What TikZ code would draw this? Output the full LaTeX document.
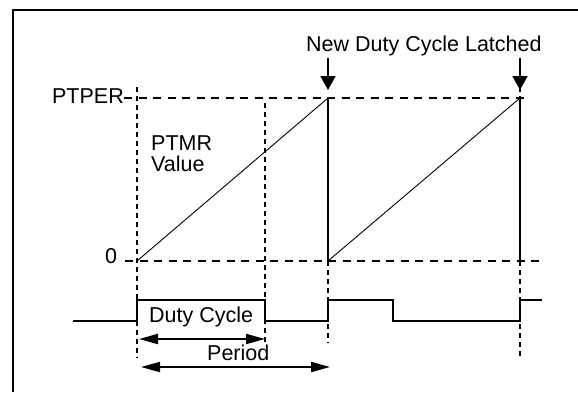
\documentclass[tikz,border=0pt]{standalone}
\usepackage{fontspec}
\setmainfont{Liberation Sans}
\usetikzlibrary{arrows.meta}
\begin{document}
\begin{tikzpicture}[x=1pt,y=-1pt,
  lbl/.style={inner sep=0pt, font=\fontsize{21.5}{25}\selectfont},
  hdash/.style={line width=1.8pt, dash pattern=on 8pt off 6.5pt},
  vdash/.style={line width=1.8pt, dash pattern=on 5pt off 4pt},
  wave/.style={line width=2pt},
  ramp/.style={line width=0.9pt},
  reset/.style={line width=1.6pt},
  dimarrow/.style={line width=2pt, {Triangle[length=19pt,width=10pt]}-{Triangle[length=19pt,width=10pt]}},
  latch/.style={line width=2pt, -{Triangle[length=14pt,width=15pt]}},
  frame/.style={line width=2.5pt}
]
\useasboundingbox (0,0) rectangle (578,392);
% frame
\coordinate (fbl) at (13,392);
\coordinate (ftl) at (13,10);
\coordinate (ftr) at (578,10);
\draw[frame] (fbl) -- (ftl) -- (ftr);

% reference levels
\coordinate (topL) at (124,98);
\coordinate (topR) at (527,98);
\coordinate (zeroL) at (125,261);
\coordinate (zeroR) at (542,261);
\draw[hdash] (topL) -- (topR);
\draw[hdash] (zeroL) -- (zeroR);

% vertical dashed markers
\coordinate (v1t) at (137,87);   \coordinate (v1b) at (137,358);
\coordinate (v2t) at (265,103);  \coordinate (v2b) at (265,342);
\coordinate (v3t) at (328,261);  \coordinate (v3b) at (328,343);
\coordinate (v4t) at (520,87);   \coordinate (v4m) at (520,98);
\coordinate (v4z) at (520,261);  \coordinate (v4b) at (520,358);
\draw[vdash] (v1t) -- (v1b);
\draw[vdash] (v2t) -- (v2b);
\draw[vdash] (v3t) -- (v3b);
\draw[vdash] (v4t) -- (v4m);
\draw[vdash] (v4z) -- (v4b);

% ramps (PTMR value)
\coordinate (r1s) at (137,261);
\coordinate (r1e) at (328,98);
\coordinate (r2s) at (328,261);
\coordinate (r2e) at (520,98);
\draw[ramp] (r1s) -- (r1e);
\draw[reset] (r1e) -- (r2s);
\draw[ramp] (r2s) -- (r2e);
\draw[reset] (r2e) -- (v4z);

% PWM output waveform
\coordinate (w0) at (73,321);
\coordinate (w1) at (137,321);
\coordinate (w2) at (137,300);
\coordinate (w3) at (265,300);
\coordinate (w4) at (265,321);
\coordinate (w5) at (328,321);
\coordinate (w6) at (328,300);
\coordinate (w7) at (393,300);
\coordinate (w8) at (393,321);
\coordinate (w9) at (520,321);
\coordinate (w10) at (520,300);
\coordinate (w11) at (542,300);
\draw[wave] (w0) -- (w1) -- (w2) -- (w3) -- (w4) -- (w5) -- (w6) -- (w7) -- (w8) -- (w9) -- (w10) -- (w11);

% dimension arrows
\coordinate (d1a) at (139,339);
\coordinate (d1b) at (265,339);
\coordinate (d2a) at (141,367);
\coordinate (d2b) at (330,367);
\draw[dimarrow] (d1a) -- (d1b);
\draw[dimarrow] (d2a) -- (d2b);

% latch arrows
\coordinate (l1a) at (328,58);
\coordinate (l1b) at (328,90);
\coordinate (l2a) at (520,58);
\coordinate (l2b) at (520,90);
\draw[latch] (l1a) -- (l1b);
\draw[latch] (l2a) -- (l2b);

% labels
\node[lbl, anchor=base west] (latched) at (306,51) {New Duty Cycle Latched};
\node[lbl, anchor=base east] (ptper) at (124,103) {PTPER};
\node[lbl, anchor=base west] (ptmr) at (151,150) {PTMR};
\node[lbl, anchor=base west] (value) at (151,171) {Value};
\node[lbl, anchor=base west] (zero) at (105,263) {0};
\node[lbl, anchor=base west] (duty) at (149,322) {Duty Cycle};
\node[lbl, anchor=base west] (period) at (207,360) {Period};
\end{tikzpicture}
\end{document}
